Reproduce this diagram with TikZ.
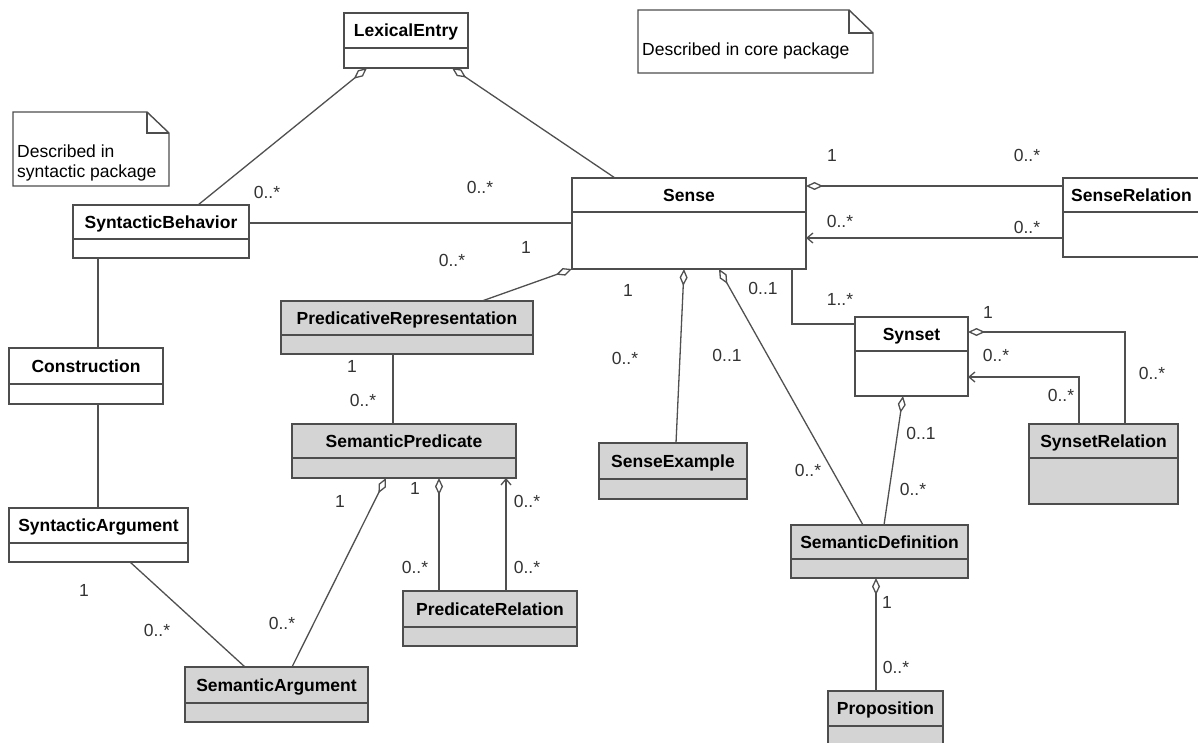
\documentclass[tikz,border=0pt]{standalone}
\usepackage{fontspec}
\setmainfont{Liberation Sans}
\usetikzlibrary{arrows.meta,calc}
\definecolor{boxc}{HTML}{4D4D4D}
\definecolor{linec}{HTML}{505050}
\definecolor{grayfill}{HTML}{D4D4D4}
\definecolor{labc}{HTML}{333333}
\tikzset{
  wbox/.style={draw=boxc, line width=1.6pt, fill=white, inner sep=0pt, outer sep=0pt, rectangle},
  gbox/.style={wbox, fill=grayfill},
  clstitle/.style={font=\fontsize{17.5}{20}\selectfont\bfseries, inner sep=0pt, text height=12.6pt, text depth=0pt, anchor=center},
  mult/.style={font=\fontsize{17.5}{20}\selectfont, text=labc, inner sep=0pt, text height=12.6pt, text depth=0pt, anchor=center},
  conn/.style={draw=linec, line width=1.3pt},
  agg/.style={conn, {Diamond[open, length=17pt, width=8pt, line width=1.3pt]}-},
  nav/.style={conn, -{Straight Barb[length=6pt, width=10pt, line width=1.3pt]}},
  notebox/.style={draw=boxc, line width=1.4pt, fill=white},
  notetxt/.style={font=\fontsize{17.5}{20}\selectfont, inner sep=0pt, anchor=west, text height=12.6pt, text depth=0pt},
}
\newcommand\umlcls[8]{%
  \node[#7, anchor=north west, minimum width={#4-#2}, minimum height={#6-#3}] (#1) at (#2,#3) {};
  \draw[draw=boxc, line width=1.6pt] (#2,#5) -- (#4,#5);
  \node[clstitle] (#1-t) at ({(#2+#4)/2},{(#3+#5)/2}) {#8};
}
\begin{document}
\begin{tikzpicture}[x=1pt,y=-1pt]
\useasboundingbox (0,0) rectangle (1198,743);
\clip (0,0) rectangle (1198,743);
\fill[white] (0,0) rectangle (1198,743);

% notes
\draw[notebox] (13,112) -- (147,112) -- (169,133) -- (169,186) -- (13,186) -- cycle;
\draw[draw=boxc, line width=1.4pt] (147,112) -- (147,133) -- (169,133);
\node[notetxt] (n1a) at (17,151) {Described in};
\node[notetxt] (n1b) at (17,171) {syntactic package};
\draw[notebox] (638,10) -- (849,10) -- (873,33) -- (873,73) -- (638,73) -- cycle;
\draw[draw=boxc, line width=1.4pt] (849,10) -- (849,33) -- (873,33);
\node[notetxt] (n2) at (642,49) {Described in core package};

% classes
\umlcls{lex}{344}{13}{468}{48}{68}{wbox}{LexicalEntry}
\umlcls{synbeh}{73}{205}{249}{239}{258}{wbox}{SyntacticBehavior}
\umlcls{sense}{572}{178}{806}{212}{269}{wbox}{Sense}
\umlcls{senrel}{1063}{178}{1200}{212}{257}{wbox}{SenseRelation}
\umlcls{constr}{9}{348}{163}{384}{404}{wbox}{Construction}
\umlcls{synarg}{9}{508}{188}{543}{562}{wbox}{SyntacticArgument}
\umlcls{predrep}{281}{301}{533}{335}{354}{gbox}{PredicativeRepresentation}
\umlcls{sempred}{292}{424}{516}{458}{478}{gbox}{SemanticPredicate}
\umlcls{senex}{599}{443}{747}{479}{499}{gbox}{SenseExample}
\umlcls{synset}{855}{317}{968}{351}{396}{wbox}{Synset}
\umlcls{synrel}{1029}{424}{1178}{458}{504}{gbox}{SynsetRelation}
\umlcls{semdef}{791}{525}{968}{559}{578}{gbox}{SemanticDefinition}
\umlcls{prop}{828}{691}{943}{726}{752}{gbox}{Proposition}
\umlcls{semarg}{185}{667}{368}{703}{722}{gbox}{SemanticArgument}
\umlcls{predrel}{403}{591}{577}{627}{646}{gbox}{PredicateRelation}

% connectors
\draw[agg] ($(lex.south west)+(23,0)$) -- ($(synbeh.north west)+(125,0)$);
\draw[agg] ($(lex.south west)+(108,0)$) -- ($(sense.north west)+(43,0)$);
\draw[conn] ($(synbeh.north east)+(0,18)$) -- ($(sense.north west)+(0,45)$);
\draw[agg] (sense.south west) -- ($(predrep.north west)+(201,0)$);
\draw[agg] ($(sense.south west)+(112,0)$) -- ($(senex.north west)+(77,0)$);
\draw[agg] ($(sense.south west)+(147,0)$) -- ($(semdef.north west)+(72,0)$);
\draw[conn] ($(sense.south west)+(220,0)$) |- ($(synset.north west)+(0,7)$);
\draw[agg] ($(sense.north east)+(0,8)$) -- ($(senrel.north west)+(0,8)$);
\draw[nav] ($(senrel.north west)+(0,60)$) -- ($(sense.north east)+(0,60)$);
\draw[agg] ($(synset.north east)+(0,15)$) -| ($(synrel.north west)+(96,0)$);
\draw[nav] ($(synrel.north west)+(50,0)$) |- ($(synset.north east)+(0,60)$);
\draw[agg] ($(synset.south west)+(48,0)$) -- ($(semdef.north west)+(93,0)$);
\draw[agg] ($(semdef.south west)+(85,0)$) -- ($(prop.north west)+(48,0)$);
\draw[conn] ($(synbeh.south west)+(25,0)$) -- ($(constr.north west)+(89,0)$);
\draw[conn] ($(constr.south west)+(89,0)$) -- ($(synarg.north west)+(89,0)$);
\draw[conn] ($(synarg.south west)+(121,0)$) -- ($(semarg.north west)+(60,0)$);
\draw[agg] ($(sempred.south west)+(94,0)$) -- ($(semarg.north west)+(107,0)$);
\draw[conn] ($(predrep.south west)+(112,0)$) -- ($(sempred.north west)+(101,0)$);
\draw[agg] ($(sempred.south west)+(147,0)$) -- ($(predrel.north west)+(36,0)$);
\draw[nav] ($(predrel.north west)+(103,0)$) -- ($(sempred.south west)+(214,0)$);

% multiplicities
\node[mult] (m1) at (267,192) {0..*};
\node[mult] (m2) at (480,187) {0..*};
\node[mult] (m3) at (526,247) {1};
\node[mult] (m4) at (452,260) {0..*};
\node[mult] (m5) at (628,290) {1};
\node[mult] (m6) at (625,358) {0..*};
\node[mult] (m7) at (727,355) {0..1};
\node[mult] (m8) at (808,470) {0..*};
\node[mult] (m9) at (763,288) {0..1};
\node[mult] (m10) at (840,299) {1..*};
\node[mult] (m11) at (832,155) {1};
\node[mult] (m12) at (1027,155) {0..*};
\node[mult] (m13) at (840,221) {0..*};
\node[mult] (m14) at (1027,227) {0..*};
\node[mult] (m15) at (988,312) {1};
\node[mult] (m16) at (1152,373) {0..*};
\node[mult] (m17) at (996,355) {0..*};
\node[mult] (m18) at (1061,395) {0..*};
\node[mult] (m19) at (921,433) {0..1};
\node[mult] (m20) at (913,489) {0..*};
\node[mult] (m21) at (887,602) {1};
\node[mult] (m22) at (896,667) {0..*};
\node[mult] (m23) at (84,590) {1};
\node[mult] (m24) at (157,630) {0..*};
\node[mult] (m25) at (340,501) {1};
\node[mult] (m26) at (282,623) {0..*};
\node[mult] (m27) at (352,366) {1};
\node[mult] (m28) at (363,400) {0..*};
\node[mult] (m29) at (415,488) {1};
\node[mult] (m30) at (415,567) {0..*};
\node[mult] (m31) at (527,501) {0..*};
\node[mult] (m32) at (527,567) {0..*};
\end{tikzpicture}
\end{document}
